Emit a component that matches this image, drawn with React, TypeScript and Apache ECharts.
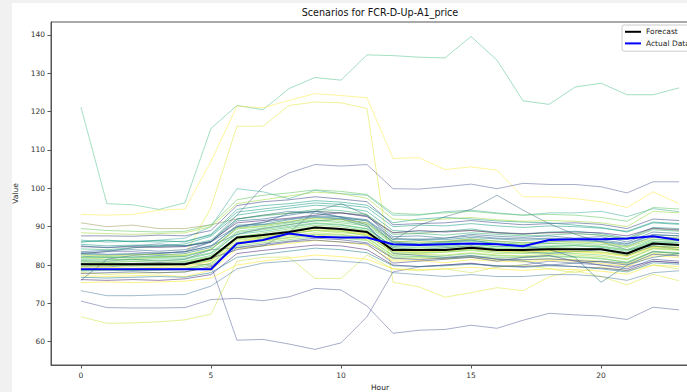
import React, { useEffect, useRef } from "react";
import * as echarts from "echarts";

const hours = [0, 1, 2, 3, 4, 5, 6, 7, 8, 9, 10, 11, 12, 13, 14, 15, 16, 17, 18, 19, 20, 21, 22, 23];
const yTicks = [60, 70, 80, 90, 100, 110, 120, 130, 140];
const xTicks = [0, 5, 10, 15, 20];

const forecast = [80.2, 80.2, 80.2, 80.2, 80.2, 81.8, 87.2, 87.8, 88.6, 89.8, 89.4, 88.6, 83.9, 83.9, 83.9, 84.5, 83.9, 83.9, 84.1, 84.1, 84.1, 83.0, 85.6, 85.2];
const actualData = [78.9, 78.9, 78.9, 78.9, 78.9, 78.9, 85.6, 86.5, 88.2, 87.4, 87.2, 87.2, 85.4, 85.2, 85.4, 85.6, 85.4, 84.9, 86.5, 86.7, 86.7, 86.9, 87.5, 86.5];

// scenario paths (one row per scenario)
const scenarios: number[][] = [
  [121.2, 96.0, 95.7, 94.5, 96.2, 115.6, 121.6, 120.5, 126.0, 128.9, 128.2, 134.8, 134.6, 134.2, 134.0, 139.6, 133.4, 122.8, 121.9, 126.4, 127.4, 124.4, 124.4, 126.2],
  [93.2, 93.0, 93.2, 94.3, 94.6, 107.0, 121.4, 121.0, 122.9, 124.7, 124.2, 123.6, 107.8, 108.0, 104.9, 105.6, 104.7, 97.8, 97.8, 97.3, 96.5, 95.0, 99.1, 96.0],
  [82.0, 81.5, 81.5, 82.0, 82.5, 95.0, 116.2, 116.2, 121.6, 122.5, 122.3, 120.8, 75.5, 74.3, 71.6, 72.8, 74.1, 73.3, 76.9, 78.5, 77.0, 74.8, 77.6, 75.9],
  [70.6, 68.9, 68.8, 68.8, 68.9, 71.0, 71.3, 70.7, 71.7, 73.9, 73.5, 69.3, 62.2, 63.0, 63.2, 64.3, 63.5, 65.6, 67.4, 67.0, 66.7, 65.8, 69.0, 68.3],
  [79.5, 79.5, 80.0, 80.0, 80.5, 80.0, 60.4, 60.6, 59.4, 58.0, 59.7, 66.5, 78.2, 79.5, 80.0, 80.5, 79.5, 80.0, 81.0, 80.5, 80.0, 79.5, 81.0, 80.5],
  [66.5, 64.8, 64.9, 65.2, 65.7, 67.2, 81.0, 82.0, 82.1, 76.5, 76.5, 82.6, 79.0, 78.5, 79.0, 78.0, 79.5, 80.0, 79.0, 78.0, 79.5, 78.5, 80.0, 79.0],
  [73.3, 72.0, 72.0, 72.2, 72.3, 74.5, 79.0, 80.5, 81.0, 81.5, 81.0, 80.5, 78.0, 77.5, 77.0, 77.5, 77.0, 77.0, 77.5, 77.5, 77.0, 76.0, 78.0, 78.5],
  [83.0, 83.5, 83.5, 83.0, 83.5, 86.0, 93.0, 100.4, 104.0, 106.2, 105.8, 106.2, 99.9, 99.8, 100.4, 101.1, 99.9, 101.3, 101.0, 101.0, 100.4, 98.8, 101.7, 101.7],
  [91.0, 90.0, 90.4, 89.5, 89.5, 90.5, 92.0, 93.0, 93.5, 94.0, 93.6, 93.0, 88.5, 88.2, 88.8, 89.0, 88.4, 88.0, 88.5, 88.2, 87.8, 86.8, 89.5, 89.0],
  [86.0, 86.5, 86.0, 86.5, 87.0, 90.0, 99.9, 99.1, 97.3, 99.5, 98.6, 98.2, 93.0, 93.0, 93.9, 94.3, 93.6, 93.0, 93.6, 93.6, 94.0, 92.6, 94.7, 93.9],
  [81.0, 81.0, 81.5, 81.0, 81.5, 84.0, 84.5, 85.0, 88.5, 94.0, 96.0, 93.0, 86.5, 90.4, 92.6, 94.5, 98.2, 94.3, 90.8, 88.0, 86.0, 84.0, 85.0, 84.0],
  [80.5, 80.5, 80.3, 80.4, 80.6, 82.0, 87.5, 88.0, 89.0, 90.0, 89.5, 88.8, 84.0, 84.2, 84.0, 84.6, 84.2, 84.0, 84.3, 84.0, 84.2, 83.2, 85.8, 85.4],
  [81.2, 81.0, 81.0, 81.2, 81.0, 82.5, 88.5, 89.2, 90.1, 91.0, 90.6, 89.5, 85.0, 85.3, 85.1, 85.5, 84.8, 84.9, 85.0, 85.1, 84.8, 83.9, 86.2, 86.0],
  [79.6, 79.8, 79.7, 79.8, 80.0, 81.2, 86.5, 87.0, 88.0, 89.0, 88.4, 87.9, 83.1, 83.0, 83.3, 83.8, 83.0, 83.2, 83.4, 83.6, 83.3, 82.4, 84.9, 84.6],
  [82.3, 82.0, 82.1, 82.4, 82.2, 84.0, 89.8, 90.5, 91.2, 92.4, 92.0, 91.0, 86.0, 86.4, 86.1, 86.8, 86.2, 85.8, 86.0, 86.3, 86.1, 85.0, 87.4, 87.0],
  [78.4, 78.6, 78.5, 78.6, 78.8, 80.0, 85.0, 85.8, 86.6, 87.4, 87.0, 86.4, 82.0, 82.1, 81.8, 82.4, 82.0, 81.9, 82.2, 82.0, 81.6, 80.8, 83.6, 83.2],
  [83.5, 83.8, 84.0, 83.6, 84.0, 86.0, 91.5, 92.0, 93.0, 94.0, 93.6, 92.8, 87.4, 87.6, 87.0, 88.0, 87.5, 87.2, 87.6, 87.0, 87.4, 86.0, 88.6, 88.2],
  [77.2, 77.0, 77.2, 77.4, 77.0, 78.6, 84.2, 85.0, 85.6, 86.4, 86.0, 85.2, 81.0, 81.2, 80.6, 81.4, 81.0, 80.8, 81.2, 81.0, 80.4, 79.6, 82.4, 82.0],
  [85.4, 85.0, 85.2, 85.0, 85.5, 87.5, 93.0, 94.0, 94.8, 95.6, 95.2, 94.0, 89.0, 88.6, 88.8, 89.4, 88.5, 88.0, 88.6, 88.8, 88.2, 87.0, 89.8, 89.5],
  [76.0, 81.5, 82.5, 83.0, 83.5, 85.0, 88.0, 89.5, 90.5, 91.5, 92.0, 90.0, 84.5, 84.0, 84.5, 85.0, 84.0, 83.5, 83.0, 83.5, 84.0, 82.5, 85.0, 84.5],
  [87.6, 87.6, 87.5, 87.8, 87.6, 89.0, 95.5, 96.5, 97.0, 97.8, 97.2, 96.5, 90.5, 90.8, 91.0, 91.6, 91.0, 90.5, 90.8, 91.0, 90.6, 89.5, 92.0, 91.6],
  [76.2, 76.0, 76.2, 76.0, 76.4, 77.5, 83.0, 83.8, 84.5, 85.2, 85.0, 84.0, 80.0, 79.6, 80.0, 80.4, 79.8, 79.6, 80.0, 79.6, 79.2, 78.6, 81.0, 80.6],
  [81.8, 82.0, 81.8, 82.0, 81.8, 83.2, 88.8, 89.6, 90.6, 91.6, 91.0, 90.2, 85.5, 85.8, 85.6, 86.2, 85.6, 85.4, 85.6, 85.8, 85.4, 84.6, 86.8, 86.4],
  [79.0, 78.8, 79.0, 79.2, 79.2, 80.5, 86.0, 86.8, 87.6, 88.4, 88.0, 87.2, 82.6, 82.8, 82.6, 83.2, 82.6, 82.4, 82.8, 82.6, 82.2, 81.4, 84.2, 83.8],
  [84.2, 84.0, 84.5, 84.8, 85.0, 86.5, 92.0, 92.8, 93.5, 94.5, 94.2, 93.2, 88.0, 88.2, 87.8, 88.4, 88.0, 87.6, 87.8, 88.2, 87.8, 86.6, 89.2, 88.8],
  [82.8, 82.6, 82.8, 82.6, 83.0, 84.6, 90.4, 90.6, 91.8, 92.6, 92.2, 91.6, 86.6, 86.8, 86.6, 87.2, 86.8, 86.4, 86.8, 86.6, 86.2, 85.4, 87.8, 87.6],
  [78.0, 77.6, 77.8, 78.0, 78.2, 79.4, 85.4, 86.2, 87.0, 87.8, 87.4, 86.6, 81.5, 81.8, 81.6, 82.0, 81.4, 81.2, 81.6, 81.4, 81.0, 80.2, 83.0, 82.6],
  [86.5, 86.0, 86.2, 86.4, 86.0, 88.0, 94.5, 95.5, 96.0, 96.8, 96.4, 95.6, 91.0, 92.0, 92.4, 92.0, 91.5, 91.2, 91.0, 90.4, 89.8, 88.6, 91.0, 90.6],
  [80.8, 80.6, 80.9, 80.7, 80.9, 82.2, 87.2, 88.4, 89.4, 90.4, 90.0, 89.0, 84.4, 84.6, 84.4, 85.0, 84.4, 84.2, 84.6, 84.4, 84.0, 83.0, 85.4, 85.0],
  [83.0, 83.5, 84.5, 85.0, 85.0, 86.0, 90.0, 91.0, 93.5, 94.0, 92.5, 90.5, 83.0, 82.5, 82.0, 82.5, 81.5, 81.0, 80.0, 80.5, 81.0, 80.5, 83.5, 83.0],
  [79.2, 79.4, 79.2, 79.4, 79.6, 81.0, 85.8, 87.4, 88.2, 89.2, 88.8, 88.0, 83.6, 83.4, 83.6, 84.2, 83.6, 83.4, 83.6, 83.4, 83.0, 82.2, 84.6, 84.2],
  [75.4, 75.6, 75.4, 75.6, 75.8, 76.6, 80.0, 81.0, 81.8, 82.6, 82.2, 81.5, 79.0, 78.8, 79.0, 79.4, 79.0, 78.6, 79.0, 78.8, 78.4, 77.6, 80.0, 79.6],
  [88.4, 88.2, 88.0, 88.2, 88.4, 90.0, 96.0, 97.0, 98.0, 99.0, 98.6, 97.4, 92.0, 91.6, 92.0, 92.4, 91.8, 91.4, 91.6, 91.4, 91.0, 90.0, 94.0, 93.6],
  [82.0, 82.2, 82.0, 82.2, 82.4, 84.0, 89.4, 90.0, 91.0, 91.8, 91.4, 90.6, 85.8, 85.4, 85.8, 86.4, 85.8, 85.4, 85.6, 85.4, 85.0, 84.0, 86.6, 86.4],
  [77.8, 78.0, 78.2, 78.0, 78.2, 79.6, 84.6, 85.4, 86.2, 87.0, 86.6, 85.8, 81.8, 81.4, 81.8, 82.2, 81.6, 81.4, 81.6, 81.2, 80.8, 80.0, 82.8, 82.4],
  [84.8, 84.6, 84.8, 84.6, 84.8, 86.2, 91.0, 91.6, 92.2, 93.0, 93.6, 92.6, 88.4, 89.0, 88.6, 89.0, 88.4, 88.2, 88.4, 88.6, 88.4, 87.6, 89.6, 89.2],
  [80.2, 80.0, 80.2, 80.4, 80.2, 81.6, 86.8, 87.6, 88.6, 89.6, 89.0, 88.2, 83.8, 83.6, 83.8, 84.4, 83.8, 83.6, 83.8, 83.6, 83.4, 82.6, 84.8, 84.6],
  [81.5, 81.5, 81.4, 81.6, 81.5, 83.0, 88.0, 88.8, 89.8, 90.8, 90.4, 89.4, 84.8, 85.0, 84.8, 85.4, 84.8, 84.6, 84.8, 85.0, 84.6, 83.6, 86.0, 85.8],
  [79.8, 80.0, 79.8, 80.0, 80.2, 81.2, 87.0, 87.2, 88.2, 89.0, 88.8, 87.6, 83.4, 83.2, 83.4, 84.0, 83.4, 83.0, 83.2, 83.0, 82.6, 81.6, 84.4, 84.0],
  [86.0, 86.4, 86.2, 86.0, 86.2, 87.8, 93.8, 94.6, 95.4, 96.2, 95.8, 95.0, 90.0, 90.4, 90.2, 90.8, 90.2, 89.8, 90.2, 90.0, 89.6, 88.8, 91.2, 90.8],
  [83.2, 82.8, 83.0, 83.2, 83.4, 85.0, 90.0, 91.2, 92.0, 92.8, 92.6, 91.8, 87.0, 86.6, 87.0, 87.6, 87.0, 86.8, 87.0, 86.8, 86.6, 85.6, 88.0, 87.6],
  [78.6, 78.8, 78.6, 78.8, 79.0, 80.4, 85.6, 86.4, 87.2, 88.0, 87.8, 87.0, 82.4, 82.2, 82.4, 83.0, 82.4, 82.2, 82.4, 82.2, 81.8, 80.6, 83.4, 83.0],
  [76.8, 76.6, 76.8, 77.0, 76.8, 78.0, 82.0, 82.8, 83.6, 84.4, 84.0, 83.2, 79.8, 79.6, 79.8, 80.2, 79.8, 79.4, 79.8, 79.6, 79.0, 78.2, 80.6, 80.2],
  [82.6, 82.4, 82.6, 82.8, 82.6, 84.2, 89.6, 90.2, 91.4, 92.2, 91.8, 91.0, 86.2, 86.0, 86.2, 86.8, 86.2, 85.8, 86.2, 86.0, 85.8, 84.8, 87.2, 87.0],
  [89.5, 89.0, 88.8, 88.6, 88.8, 90.5, 97.0, 98.2, 98.8, 99.6, 99.2, 98.4, 93.5, 93.2, 93.6, 94.0, 93.4, 93.0, 93.2, 93.0, 92.4, 91.4, 95.0, 94.6],
  [80.4, 80.2, 80.4, 80.6, 80.4, 81.8, 84.0, 85.0, 86.0, 86.5, 86.0, 85.5, 80.5, 81.0, 81.5, 82.0, 81.0, 82.0, 82.5, 81.0, 80.0, 79.0, 81.5, 81.0],
  [85.0, 84.5, 85.0, 85.5, 85.0, 86.0, 92.0, 93.0, 94.0, 93.5, 92.5, 91.5, 86.0, 85.5, 86.0, 86.5, 85.5, 85.0, 84.0, 82.0, 75.5, 80.0, 82.0, 83.0],
];

const scenarioColors = [
  "#35b779", "#fde725", "#dce319", "#3e4989", "#3e4989", "#c2df23", "#31688e", "#3e4989",
  "#8a8a3a", "#1f9e89", "#2a5a6e", "#6ece58", "#5ec962", "#a0da39", "#26828e", "#6ece58",
  "#31688e", "#fde725", "#1f9e89", "#31688e", "#3e4989", "#482878", "#5ec962", "#b5de2b",
  "#35b779", "#26828e", "#c8e020", "#1f9e89", "#6ece58", "#31688e", "#fde725", "#fde725",
  "#a0da39", "#5ec962", "#3e4989", "#482878", "#b5de2b", "#35b779", "#6ece58", "#1f9e89",
  "#31688e", "#5ec962", "#26828e", "#b5de2b", "#5ec962", "#3e4989", "#2a788e",
];

const FONT = "DejaVu Sans";

export default function App() {
  const ref = useRef<HTMLDivElement>(null);

  useEffect(() => {
    if (!ref.current) return;
    const chart = echarts.init(ref.current, undefined, { renderer: "svg" });

    const scenarioSeries = scenarios.map((vals, i) => ({
      name: "Scenario " + (i + 1),
      type: "line",
      data: hours.map((h, j) => [h, vals[j]]),
      showSymbol: false,
      symbol: "none",
      silent: true,
      color: scenarioColors[i % scenarioColors.length],
      lineStyle: { width: 1, opacity: i < 11 ? 0.45 : 0.55, color: scenarioColors[i % scenarioColors.length] },
      emphasis: { disabled: true },
      z: 2,
    }));

    chart.setOption({
      animation: false,
      backgroundColor: "#ffffff",
      textStyle: { fontFamily: FONT },
      graphic: [
        {
          type: "text",
          x: 368,
          y: 9,
          style: {
            text: "Scenarios for FCR-D-Up-A1_price",
            fontFamily: FONT,
            fontSize: 9.6,
            fill: "#111",
            textAlign: "center",
            textVerticalAlign: "middle",
          },
        },
      ],
      legend: {
        data: ["Forecast", "Actual Data"],
        orient: "vertical",
        left: 610,
        top: 22,
        padding: [2, 30, 3, 3],
        itemWidth: 16,
        itemHeight: 2,
        itemGap: 2,
        icon: "rect",
        backgroundColor: "rgba(255,255,255,0.85)",
        borderColor: "#cccccc",
        borderWidth: 1,
        borderRadius: 2,
        textStyle: { fontFamily: FONT, fontSize: 7.5, color: "#222", lineHeight: 9.6 },
      },
      grid: {
        left: 39,
        top: 19,
        right: 20,
        bottom: 27,
        containLabel: false,
        outerBoundsMode: "none",
        show: true,
        borderColor: "#555",
        borderWidth: 1,
        backgroundColor: "transparent",
      },
      xAxis: {
        type: "value",
        min: -1.15,
        max: 24.15,
        name: "Hour",
        nameLocation: "middle",
        nameGap: 17,
        nameTextStyle: { fontFamily: FONT, fontSize: 7.5, color: "#222" },
        axisLine: { show: true, onZero: false, lineStyle: { color: "#555", width: 1 } },
        axisTick: { show: true, length: 3.5, lineStyle: { color: "#555" }, customValues: xTicks },
        axisLabel: { fontFamily: FONT, fontSize: 7.5, color: "#333", margin: 6, customValues: xTicks },
        splitLine: { show: false },
      },
      yAxis: {
        type: "value",
        min: 53.93,
        max: 143.37,
        name: "Value",
        nameLocation: "middle",
        nameGap: 24,
        nameRotate: 90,
        nameTextStyle: { fontFamily: FONT, fontSize: 7.5, color: "#222" },
        axisLine: { show: true, onZero: false, lineStyle: { color: "#555", width: 1 } },
        axisTick: { show: true, length: 3.5, lineStyle: { color: "#555" }, customValues: yTicks },
        axisLabel: { fontFamily: FONT, fontSize: 7.5, color: "#333", margin: 6, customValues: yTicks },
        splitLine: { show: false },
      },
      series: [
        ...scenarioSeries,
        {
          name: "Forecast",
          type: "line",
          data: hours.map((h, j) => [h, forecast[j]]),
          showSymbol: false,
          symbol: "none",
          color: "#000000",
          lineStyle: { width: 2, color: "#000000" },
          emphasis: { disabled: true },
          z: 3,
        },
        {
          name: "Actual Data",
          type: "line",
          data: hours.map((h, j) => [h, actualData[j]]),
          showSymbol: false,
          symbol: "none",
          color: "#0000ff",
          lineStyle: { width: 2, color: "#0000ff" },
          emphasis: { disabled: true },
          z: 4,
        },
      ],
    });

    return () => chart.dispose();
  }, []);

  return (
    <div
      style={{
        position: "fixed",
        left: 0,
        top: 0,
        width: 687,
        height: 392,
        overflow: "hidden",
        background: "#f1f1f1",
      }}
    >
      <div
        ref={ref}
        style={{ position: "absolute", left: 12, top: 3, width: 717, height: 389, background: "#ffffff" }}
      />
    </div>
  );
}
